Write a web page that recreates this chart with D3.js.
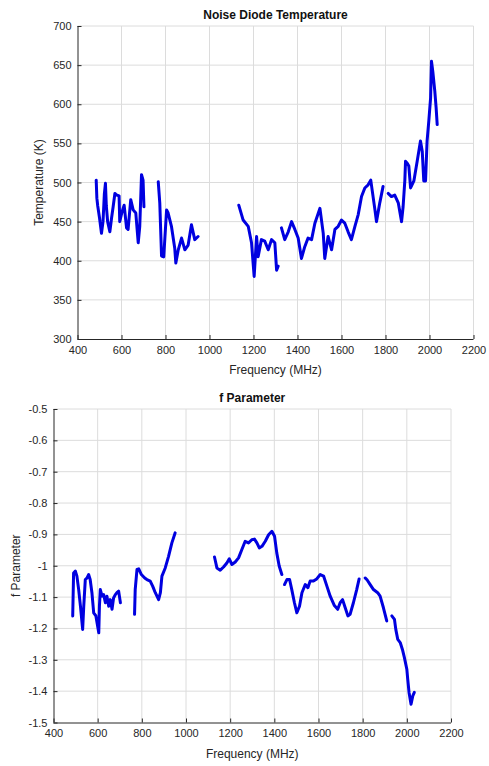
<!DOCTYPE html>
<html>
<head>
<meta charset="utf-8">
<script src="https://cdn.jsdelivr.net/npm/d3@7"></script>
<style>
  html, body { margin: 0; padding: 0; background: #fff; }
  svg { display: block; font-family: "Liberation Sans", Arial, sans-serif; }
</style>
</head>
<body>
<svg id="chart" width="489" height="766"></svg>
<script>
// Noise diode temperature (K) vs frequency (MHz), one array per measured band
const tempBand1 = [[485,503],[488,480],[492,470],[500,455],[509,435],[516,450],[522,485],[527,499],[531,470],[537,450],[547,437],[555,455],[562,469],[570,486],[578,484],[589,483],[592,450],[602,462],[612,471],[623,442],[630,440],[642,478],[653,465],[665,461],[676,423],[683,444],[691,510],[698,503],[702,469]];
const tempBand2 = [[767,501],[774,474],[778,440],[782,406],[792,405],[805,465],[812,461],[827,444],[842,416],[847,397],[858,414],[873,429],[888,414],[903,420],[918,446],[933,427],[948,431]];
const tempBand3 = [[1133,471],[1153,452],[1176,444],[1191,423],[1203,380],[1214,431],[1221,405],[1236,427],[1251,425],[1267,414],[1282,427],[1297,423],[1305,388],[1312,393]];
const tempBand4 = [[1327,442],[1342,427],[1358,437],[1373,450],[1388,440],[1403,429],[1418,403],[1433,418],[1448,429],[1464,427],[1479,448],[1502,467],[1517,435],[1524,403],[1539,431],[1555,414],[1570,440],[1585,444],[1600,452],[1615,448],[1630,437],[1645,427],[1661,444],[1676,459],[1691,482],[1706,493],[1721,497],[1733,503],[1752,465],[1759,450],[1774,474],[1789,495]];
const tempBand5 = [[1812,486],[1827,482],[1842,484],[1858,474],[1873,450],[1880,469],[1888,503],[1891,527],[1898,525],[1906,521],[1914,493],[1929,502],[1944,527],[1959,553],[1967,540],[1974,502],[1982,502],[1989,553],[1997,579],[2005,608],[2009,655],[2015,642],[2024,617],[2030,596],[2035,574]];
const tempBands = [tempBand1, tempBand2, tempBand3, tempBand4, tempBand5];

// f parameter vs frequency (MHz)
const fBand1 = [[487,-1.16],[491,-1.023],[499,-1.017],[506,-1.033],[514,-1.076],[522,-1.129],[532,-1.203],[537,-1.129],[544,-1.044],[552,-1.039],[559,-1.028],[566,-1.044],[574,-1.086],[582,-1.15],[592,-1.16],[605,-1.214],[608,-1.129],[612,-1.076],[620,-1.097],[627,-1.092],[635,-1.118],[642,-1.097],[650,-1.129],[657,-1.108],[665,-1.139],[672,-1.103],[680,-1.092],[687,-1.086],[695,-1.081],[703,-1.118]];
const fBand2 = [[767,-1.155],[770,-1.076],[778,-1.012],[786,-1.010],[798,-1.028],[813,-1.039],[823,-1.044],[838,-1.049],[849,-1.065],[861,-1.086],[876,-1.108],[884,-1.086],[891,-1.033],[906,-1.007],[921,-0.970],[936,-0.927],[951,-0.895]];
const fBand3 = [[1129,-0.972],[1140,-1.007],[1155,-1.014],[1170,-1.004],[1185,-0.991],[1196,-0.978],[1208,-0.996],[1223,-0.988],[1238,-0.975],[1253,-0.948],[1268,-0.922],[1283,-0.927],[1298,-0.917],[1310,-0.915],[1321,-0.927],[1332,-0.943],[1344,-0.938],[1359,-0.922],[1374,-0.901],[1389,-0.890],[1401,-0.906],[1411,-0.959],[1422,-1.001],[1434,-1.028]];
const fBand4 = [[1446,-1.060],[1457,-1.044],[1469,-1.044],[1479,-1.076],[1491,-1.118],[1502,-1.150],[1514,-1.129],[1525,-1.086],[1540,-1.060],[1552,-1.070],[1562,-1.049],[1577,-1.049],[1592,-1.042],[1608,-1.028],[1623,-1.033],[1638,-1.065],[1653,-1.097],[1672,-1.127],[1687,-1.139],[1698,-1.118],[1709,-1.108],[1721,-1.134],[1733,-1.16],[1743,-1.155],[1758,-1.118],[1773,-1.076],[1784,-1.042]];
const fBand5 = [[1811,-1.039],[1819,-1.044],[1834,-1.060],[1849,-1.076],[1868,-1.086],[1879,-1.097],[1894,-1.134],[1909,-1.176]];
const fBand6 = [[1932,-1.16],[1944,-1.171],[1950,-1.203],[1959,-1.235],[1970,-1.245],[1980,-1.267],[1989,-1.293],[2000,-1.330],[2004,-1.362],[2010,-1.404],[2019,-1.442],[2027,-1.415],[2034,-1.404]];
const fBands = [fBand1, fBand2, fBand3, fBand4, fBand5, fBand6];

const freqTicks = [400, 600, 800, 1000, 1200, 1400, 1600, 1800, 2000, 2200];
const tempTicks = [300, 350, 400, 450, 500, 550, 600, 650, 700];
const fTicks = [-1.5, -1.4, -1.3, -1.2, -1.1, -1, -0.9, -0.8, -0.7, -0.6, -0.5];

const svg = d3.select("#chart");
const INK = "#262626";
const GRID = "#dcdcdc";
const MARK = "#0000e0";

function panel(opts) {
  const { left, right, top, bottom, yDomain, yTicks, bands, title, yLabel, yLabelX, yFmt } = opts;
  const x = d3.scaleLinear().domain([400, 2200]).range([left, right]);
  const y = d3.scaleLinear().domain(yDomain).range([bottom, top]);
  const g = svg.append("g");

  // grid
  g.append("g").selectAll("line").data(freqTicks.slice(1)).join("line")
    .attr("x1", d => x(d)).attr("x2", d => x(d))
    .attr("y1", top).attr("y2", bottom)
    .attr("stroke", GRID).attr("stroke-width", 1);
  g.append("g").selectAll("line").data(yTicks.slice(1)).join("line")
    .attr("x1", left).attr("x2", right)
    .attr("y1", d => y(d)).attr("y2", d => y(d))
    .attr("stroke", GRID).attr("stroke-width", 1);

  // data
  const line = d3.line().x(d => x(d[0])).y(d => y(d[1]));
  g.append("g").selectAll("path").data(bands).join("path")
    .attr("d", line)
    .attr("fill", "none")
    .attr("stroke", MARK)
    .attr("stroke-width", 3)
    .attr("stroke-linejoin", "round")
    .attr("stroke-linecap", "round");

  // axes (ticks point inward)
  const xAxis = d3.axisBottom(x).tickValues(freqTicks).tickSize(-4).tickPadding(7).tickFormat(d3.format("d"));
  const ax = g.append("g").attr("transform", `translate(0,${bottom})`).call(xAxis);
  const yAxis = d3.axisLeft(y).tickValues(yTicks).tickSize(-4).tickPadding(6).tickFormat(yFmt);
  const ay = g.append("g").attr("transform", `translate(${left},0)`).call(yAxis);
  [ax, ay].forEach(a => {
    a.select(".domain").attr("stroke", INK).attr("stroke-width", 1);
    a.selectAll(".tick line").attr("stroke", INK);
    a.selectAll(".tick text").attr("fill", INK).attr("font-size", 11)
      .attr("font-family", "'Liberation Sans', Arial, sans-serif");
  });
  ax.select(".domain").attr("d", `M${left},0.5H${right}`);
  ay.select(".domain").attr("d", `M0.5,${bottom}V${top}`);

  // labels
  g.append("text").attr("x", (left + right) / 2).attr("y", top - 7)
    .attr("text-anchor", "middle").attr("font-size", 12).attr("font-weight", "bold")
    .attr("fill", "#111").text(title);
  g.append("text").attr("x", (left + right) / 2).attr("y", bottom + 35)
    .attr("text-anchor", "middle").attr("font-size", 12).attr("fill", INK)
    .text("Frequency (MHz)");
  g.append("text")
    .attr("transform", `translate(${yLabelX},${(top + bottom) / 2}) rotate(-90)`)
    .attr("text-anchor", "middle").attr("font-size", 12).attr("fill", INK)
    .text(yLabel);
}

panel({
  left: 77.5, right: 473.5, top: 26, bottom: 339,
  yDomain: [300, 700], yTicks: tempTicks, bands: tempBands,
  title: "Noise Diode Temperature", yLabel: "Temperature (K)", yLabelX: 43,
  yFmt: d3.format("d")
});

panel({
  left: 53.5, right: 451, top: 409, bottom: 722.5,
  yDomain: [-1.5, -0.5], yTicks: fTicks, bands: fBands,
  title: "f Parameter", yLabel: "f Parameter", yLabelX: 20,
  yFmt: d => String(+d.toFixed(1))
});
</script>
</body>
</html>
